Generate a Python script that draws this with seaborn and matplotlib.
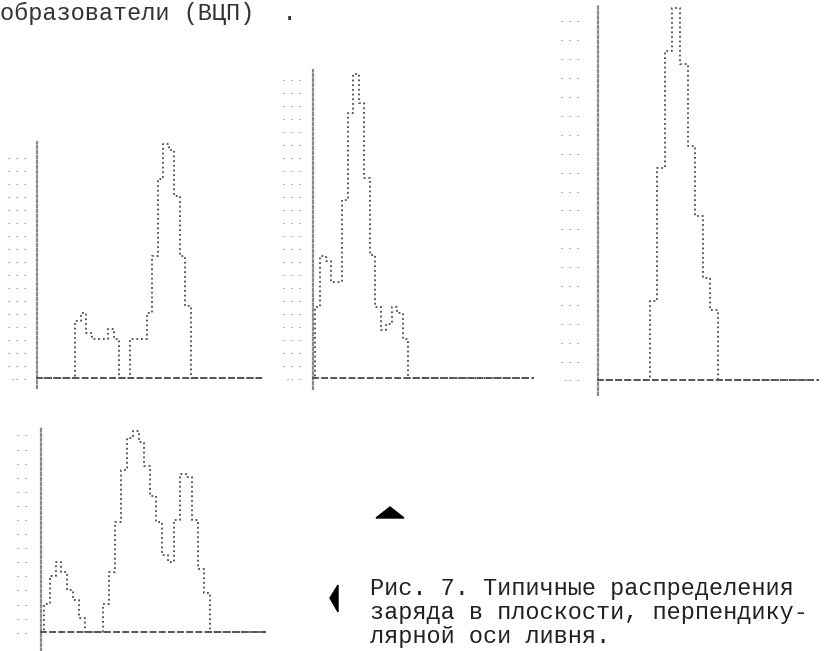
import matplotlib
matplotlib.use("Agg")
import matplotlib.pyplot as plt
import seaborn as sns
import pandas as pd
from matplotlib.patches import Polygon

sns.set_style("white")
plt.rcParams['font.family'] = ['Liberation Mono', 'DejaVu Sans Mono']

W, H = 833, 651

######################## charge per channel (printer rows) ########################

charge_a = [0]*7 + [4.4, 5, 3.5, 3, 3, 3, 3.8, 3, 0, 0, 3, 3, 3, 5, 9.4, 15.3, 18, 17.6, 14, 9.4, 5.6] + [0]*13
charge_b = [0, 5.5, 9.4, 9.0, 7.4, 7.4, 13.7, 20.4, 23.4, 21.2, 15.4, 9.5, 5.5, 3.7, 4.2, 5.5, 5, 3] + [0]*22
charge_c = [0]*7 + [4.2, 11.2, 17.4, 19.7, 16.7, 12.4, 8.7, 5.4, 3.7] + [0]*13
charge_d = [0, 2, 4, 5, 4.3, 3, 2.3, 1, 0, 0, 0, 2, 4.3, 7.8, 11.5, 13.8, 14.3, 13.5, 11.8, 9.7,
            7.8, 5.5, 5, 8, 11.2, 11, 8, 4.5, 2.8] + [0]*9

rows_a = list(range(0, 18))
rows_b = list(range(0, 24))
rows_c = list(range(0, 20))
rows_d = list(range(0, 15))

# the printer wrote these little dash groups as row marks
mark_a = ['-- -'] + ['- - -'] * 17
mark_b = ['-- -'] + ['- - -'] * 23
mark_c = ['-- -'] + ['- - -'] * 19
mark_d = ['- -'] + ['- -'] * 14

caption = ["Рис. 7. Типичные распределения",
           "заряда в плоскости, перпендику-",
           "лярной оси ливня."]
header = "образователи (ВЦП)  ."

######################## layout of the four printer plots (pixels on the page) ########################
# axis x, baseline y, channel width, row height, channel offset, top row, bottom row, label pad
panels = [
    (charge_a, rows_a, mark_a, 36.7, 378.3, 5.5, 13.0, 0.5, 18.2, -0.75, 7),
    (charge_b, rows_b, mark_b, 312.7, 378.3, 5.5, 13.0, -0.12, 23.7, -0.8, 8),
    (charge_c, rows_c, mark_c, 598.3, 380.0, 7.57, 18.9, 0.3, 19.8, -0.8, 13),
    (charge_d, rows_d, mark_d, 40.7, 632.3, 5.93, 14.1, 0.0, 14.5, -1.3, 9),
]

fig = plt.figure(figsize=(W / 100, H / 100), dpi=100)


def printer_hist(values, rows, marks, ax_x, base_y, col_w, unit, off, top, bot, pad):
    n = len(values)
    left = ax_x / W
    bottom = 1 - (base_y - bot * unit) / H
    ax = fig.add_axes([left, bottom, n * col_w / W, (top - bot) * unit / H])
    df = pd.DataFrame({'channel': range(n), 'charge': values})
    sns.lineplot(data=df, x='channel', y='charge', ax=ax, drawstyle='steps-mid',
                 color='#4a4a4a', linestyle=(0, (1, 1.6)), lw=1.3)
    ax.set_xlim(-off, n - off)
    ax.set_ylim(bot, top)
    ax.set_facecolor('none')
    for s in ['top', 'right']:
        ax.spines[s].set_visible(False)
    ax.spines['left'].set_linestyle((0, (1, 1.2)))
    ax.spines['left'].set_color('#8a8a8a')
    ax.spines['left'].set_linewidth(1.6)
    ax.spines['bottom'].set_position(('data', 0))
    ax.spines['bottom'].set_linestyle((0, (2.5, 2.2)))
    ax.spines['bottom'].set_color('#555555')
    ax.spines['bottom'].set_linewidth(1.4)
    ax.set_xticks([])
    ax.set_yticks(rows)
    ax.set_yticklabels(marks, fontsize=4.8, color='#6f6f6f')
    ax.tick_params(axis='y', length=0, pad=pad)
    ax.set_xlabel('')
    ax.set_ylabel('')
    return ax


for p in panels:
    printer_hist(*p)

# text line at the top edge of the scan
fig.text(0 / W, 1 - 20 / H, header, fontsize=17, color='#333333', va='baseline', ha='left')

for i, line in enumerate(caption):
    fig.text(370 / W, 1 - (588 + 24 * i) / H, line, fontsize=16.9, color='#222222',
             va='center', ha='left')

# the two black markers on the page
def px(x, y):
    return (x / W, 1 - y / H)

fig.patches.append(Polygon([px(376, 518), px(404, 518), px(390, 507)], closed=True,
                           transform=fig.transFigure, color='black'))
fig.patches.append(Polygon([px(330, 598), px(338, 585), px(338, 612)], closed=True,
                           transform=fig.transFigure, color='black'))

fig.savefig('out.png', dpi=100, facecolor='white')
